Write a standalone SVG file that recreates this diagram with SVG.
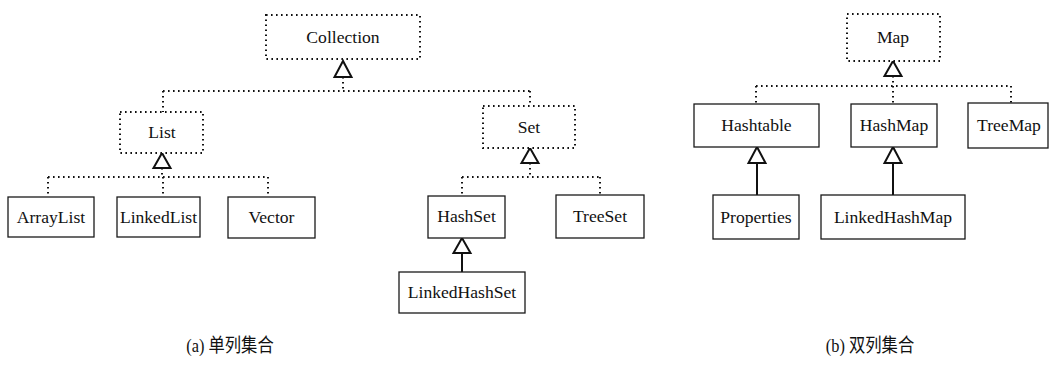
<svg xmlns="http://www.w3.org/2000/svg" width="1051" height="368" viewBox="0 0 1051 368">
  <style>
    .box { fill: #fff; stroke: #1a1a1a; stroke-width: 1.3; }
    .iface { fill: #fff; stroke: #111; stroke-width: 2; stroke-dasharray: 1.6 3.4; }
    .dot { fill: none; stroke: #111; stroke-width: 2; stroke-dasharray: 1.6 3.4; }
    .solid { fill: none; stroke: #111; stroke-width: 2; }
    .tri { fill: #fff; stroke: #111; stroke-width: 2; stroke-linejoin: miter; }
    .lbl { font-family: "Liberation Serif", "Times New Roman", serif; font-size: 17.6px; fill: #111; text-anchor: middle; }
    .cap { font-family: "Liberation Serif", "Noto Sans CJK SC", serif; font-size: 19px; fill: #111; text-anchor: middle; }
  </style>

  <!-- connectors -->
  <g id="connectors">
    <!-- Collection -> List / Set -->
    <path class="dot" d="M343 77 V91 M163 91 H530 M163 91 V112 M530 91 V106"/>
    <polygon class="tri" points="343,61 334.5,77 351.5,77"/>
    <!-- List -> ArrayList / LinkedList / Vector -->
    <path class="dot" d="M162 168 V177 M48 177 H268 M48 177 V197 M163 177 V197 M268 177 V197"/>
    <polygon class="tri" points="162,153 153.5,168 170.5,168"/>
    <!-- Set -> HashSet / TreeSet -->
    <path class="dot" d="M530 163 V177 M462 177 H601 M462 177 V196 M600 177 V195"/>
    <polygon class="tri" points="530,148 521.5,163 538.5,163"/>
    <!-- HashSet <- LinkedHashSet -->
    <path class="solid" d="M462 253 V272"/>
    <polygon class="tri" points="462,238 453.5,253 470.5,253"/>
    <!-- Map -> Hashtable / HashMap / TreeMap -->
    <path class="dot" d="M893 76 V86 M756 86 H1011 M756 86 V104 M893 86 V104 M1011 86 V103"/>
    <polygon class="tri" points="893,61 884.5,76 901.5,76"/>
    <!-- Hashtable <- Properties -->
    <path class="solid" d="M757 164 V195"/>
    <polygon class="tri" points="757,147 748.5,163 765.5,163"/>
    <!-- HashMap <- LinkedHashMap -->
    <path class="solid" d="M893 164 V195"/>
    <polygon class="tri" points="893,147 884.5,163 901.5,163"/>
  </g>

  <!-- single-column collections -->
  <g id="collection"><rect class="iface" x="266" y="15" width="154" height="44"/><text class="lbl" x="343" y="43">Collection</text></g>
  <g id="list"><rect class="iface" x="120" y="112" width="83" height="41"/><text class="lbl" x="162" y="138">List</text></g>
  <g id="set"><rect class="iface" x="483" y="106" width="92" height="42"/><text class="lbl" x="529" y="133">Set</text></g>
  <g id="arraylist"><rect class="box" x="8" y="197" width="86" height="40"/><text class="lbl" x="51" y="223">ArrayList</text></g>
  <g id="linkedlist"><rect class="box" x="117" y="197" width="83" height="40"/><text class="lbl" x="158.5" y="223">LinkedList</text></g>
  <g id="vector"><rect class="box" x="228" y="197" width="87" height="41"/><text class="lbl" x="271.5" y="223">Vector</text></g>
  <g id="hashset"><rect class="box" x="428" y="196" width="77" height="42"/><text class="lbl" x="466.5" y="222">HashSet</text></g>
  <g id="treeset"><rect class="box" x="556" y="195" width="88" height="43"/><text class="lbl" x="600" y="222">TreeSet</text></g>
  <g id="linkedhashset"><rect class="box" x="399" y="272" width="126" height="41"/><text class="lbl" x="462" y="298">LinkedHashSet</text></g>

  <!-- double-column collections -->
  <g id="map"><rect class="iface" x="847" y="14" width="93" height="47"/><text class="lbl" x="893" y="43">Map</text></g>
  <g id="hashtable"><rect class="box" x="694" y="104" width="125" height="43"/><text class="lbl" x="756.5" y="131">Hashtable</text></g>
  <g id="hashmap"><rect class="box" x="851" y="104" width="86" height="43"/><text class="lbl" x="894" y="131">HashMap</text></g>
  <g id="treemap"><rect class="box" x="968" y="103" width="80" height="45"/><text class="lbl" x="1009" y="131">TreeMap</text></g>
  <g id="properties"><rect class="box" x="713" y="195" width="86" height="44"/><text class="lbl" x="756" y="223">Properties</text></g>
  <g id="linkedhashmap"><rect class="box" x="821" y="195" width="144" height="44"/><text class="lbl" x="893" y="223">LinkedHashMap</text></g>

  <!-- captions (narrowed glyphs) -->
  <text class="cap" transform="translate(230 352) scale(0.86 1)">(a) 单列集合</text>
  <text class="cap" transform="translate(870 352) scale(0.86 1)">(b) 双列集合</text>
</svg>
